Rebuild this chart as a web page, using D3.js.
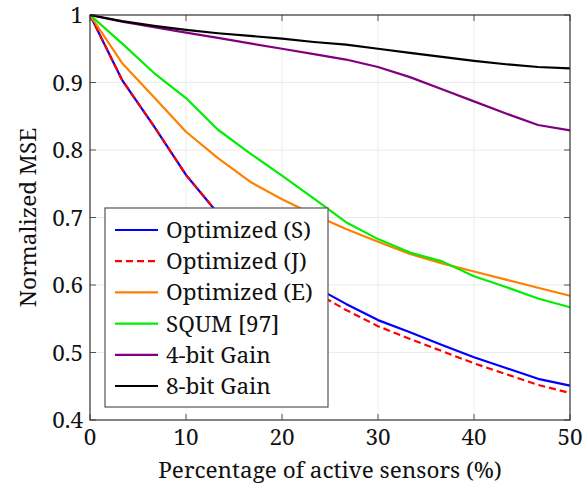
<!DOCTYPE html>
<html>
  <head>
    <script src="https://cdn.jsdelivr.net/npm/d3@7"></script>
  </head>
  <body style="margin:0; background:#fff">
    <svg id="chart" width="582" height="495"></svg>
    <script>
      // x positions (percentage of active sensors)
      const xValues = [0, 3.33, 6.67, 10, 13.33, 16.67, 20, 23.33, 26.67, 30, 33.33, 36.67, 40, 43.33, 46.67, 50];

      const optS = [1, 0.904, 0.835, 0.763, 0.706, 0.660, 0.625, 0.598, 0.572, 0.548, 0.530, 0.511, 0.493, 0.477, 0.461, 0.451];
      const optJ = [1, 0.904, 0.835, 0.763, 0.706, 0.658, 0.620, 0.590, 0.563, 0.539, 0.520, 0.502, 0.484, 0.468, 0.452, 0.440];
      const optE = [1, 0.929, 0.878, 0.827, 0.788, 0.753, 0.727, 0.704, 0.683, 0.664, 0.646, 0.632, 0.620, 0.608, 0.596, 0.584];
      const squm = [1, 0.958, 0.914, 0.877, 0.830, 0.795, 0.762, 0.728, 0.693, 0.668, 0.648, 0.635, 0.613, 0.597, 0.580, 0.567];
      const gain4 = [1, 0.990, 0.982, 0.974, 0.966, 0.958, 0.950, 0.942, 0.934, 0.923, 0.908, 0.890, 0.872, 0.854, 0.837, 0.829];
      const gain8 = [1, 0.991, 0.984, 0.978, 0.973, 0.969, 0.965, 0.960, 0.956, 0.950, 0.944, 0.938, 0.932, 0.927, 0.923, 0.921];

      const seriesNames = ["Optimized (S)", "Optimized (J)", "Optimized (E)", "SQUM [97]", "4-bit Gain", "8-bit Gain"];
      const seriesColors = ["#0000ff", "#ff0000", "#ff8000", "#00ee00", "#800080", "#000000"];
      const seriesData = [optS, optJ, optE, squm, gain4, gain8];

      const xTicks = [0, 10, 20, 30, 40, 50];
      const yTicks = [0.4, 0.5, 0.6, 0.7, 0.8, 0.9, 1];

      const svg = d3.select("#chart");
      const plot = { left: 90, right: 570, top: 15, bottom: 420 };
      const font = "Noto Serif";
      const fontSize = 22.5;

      const x = d3.scaleLinear().domain([0, 50]).range([plot.left, plot.right]);
      const y = d3.scaleLinear().domain([0.4, 1]).range([plot.bottom, plot.top]);

      // light grid
      const grid = svg.append("g").attr("stroke", "#ebebeb").attr("stroke-width", 1);
      grid.selectAll(".gx").data(xTicks.slice(1, -1)).join("line")
        .attr("x1", d => x(d)).attr("x2", d => x(d))
        .attr("y1", plot.top).attr("y2", plot.bottom);
      grid.selectAll(".gy").data(yTicks.slice(1, -1)).join("line")
        .attr("y1", d => y(d)).attr("y2", d => y(d))
        .attr("x1", plot.left).attr("x2", plot.right);

      // inward ticks on all four sides
      const tickLen = 6;
      const ticks = svg.append("g").attr("stroke", "#555").attr("stroke-width", 1);
      xTicks.forEach(t => {
        ticks.append("line").attr("x1", x(t)).attr("x2", x(t)).attr("y1", plot.bottom).attr("y2", plot.bottom - tickLen);
        ticks.append("line").attr("x1", x(t)).attr("x2", x(t)).attr("y1", plot.top).attr("y2", plot.top + tickLen);
      });
      yTicks.forEach(t => {
        ticks.append("line").attr("y1", y(t)).attr("y2", y(t)).attr("x1", plot.left).attr("x2", plot.left + tickLen);
        ticks.append("line").attr("y1", y(t)).attr("y2", y(t)).attr("x1", plot.right).attr("x2", plot.right - tickLen);
      });

      // tick labels
      svg.append("g").selectAll("text").data(xTicks).join("text")
        .attr("x", d => x(d)).attr("y", plot.bottom + 25)
        .attr("text-anchor", "middle")
        .attr("font-family", font).attr("font-size", fontSize).attr("fill", "#111")
        .text(d => d);
      svg.append("g").selectAll("text").data(yTicks).join("text")
        .attr("x", plot.left - 7).attr("y", d => y(d) + 8)
        .attr("text-anchor", "end")
        .attr("font-family", font).attr("font-size", fontSize).attr("fill", "#111")
        .text(d => d === 1 ? "1" : d3.format(".1f")(d));

      // curves
      const line = d3.line().x((d, i) => x(xValues[i])).y(d => y(d));
      seriesData.forEach((data, i) => {
        svg.append("path")
          .datum(data)
          .attr("fill", "none")
          .attr("stroke", seriesColors[i])
          .attr("stroke-width", 2.2)
          .attr("stroke-linejoin", "round")
          .attr("stroke-dasharray", i === 1 ? "7,4" : null)
          .attr("d", line);
      });

      svg.append("rect")
        .attr("x", plot.left).attr("y", plot.top)
        .attr("width", plot.right - plot.left).attr("height", plot.bottom - plot.top)
        .attr("fill", "none").attr("stroke", "#333").attr("stroke-width", 1.2);

      // legend
      const legend = svg.append("g");
      legend.append("rect")
        .attr("x", 105).attr("y", 208).attr("width", 223).attr("height", 199)
        .attr("fill", "#fff").attr("stroke", "#555").attr("stroke-width", 1.2);
      seriesNames.forEach((name, i) => {
        const cy = 230 + i * 31.2;
        legend.append("line")
          .attr("x1", 115).attr("x2", 158).attr("y1", cy).attr("y2", cy)
          .attr("stroke", seriesColors[i]).attr("stroke-width", 2.2)
          .attr("stroke-dasharray", i === 1 ? "7,4" : null);
        legend.append("text")
          .attr("x", 166).attr("y", cy + 8)
          .attr("font-family", font).attr("font-size", fontSize).attr("fill", "#111")
          .text(name);
      });

      // axis titles
      svg.append("text")
        .attr("x", (plot.left + plot.right) / 2).attr("y", 478)
        .attr("text-anchor", "middle")
        .attr("font-family", font).attr("font-size", fontSize).attr("fill", "#111")
        .text("Percentage of active sensors (%)");
      svg.append("text")
        .attr("transform", `translate(36, ${(plot.top + plot.bottom) / 2}) rotate(-90)`)
        .attr("text-anchor", "middle")
        .attr("font-family", font).attr("font-size", fontSize).attr("fill", "#111")
        .text("Normalized MSE");
    </script>
  </body>
</html>
